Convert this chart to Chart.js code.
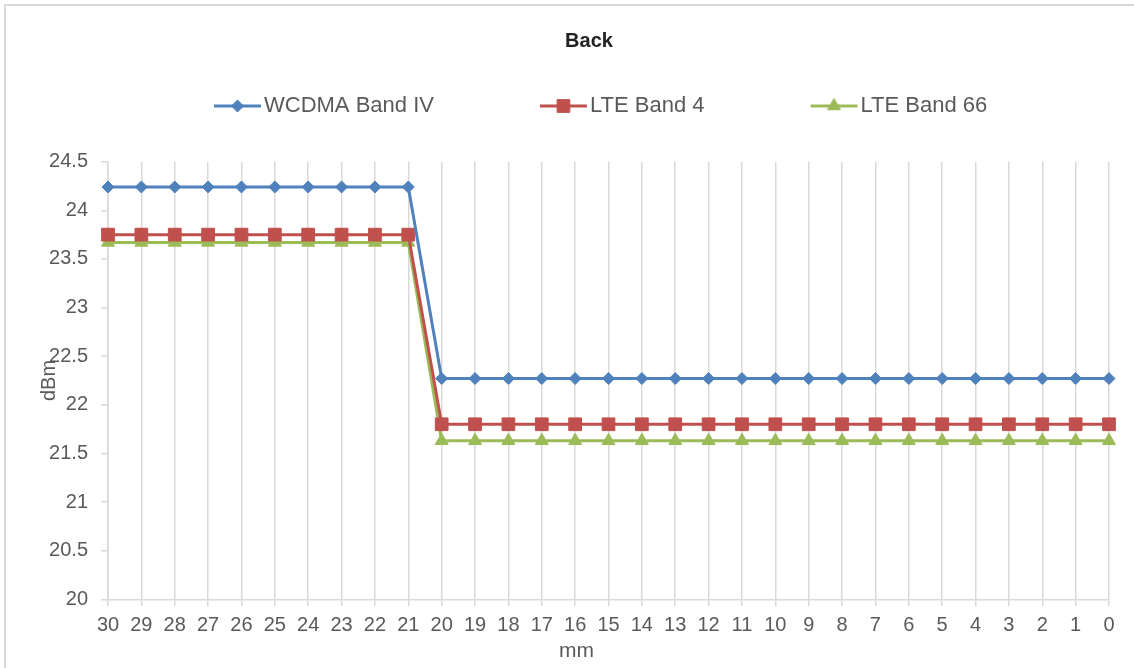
<!DOCTYPE html>
<html>
<head>
<meta charset="utf-8">
<script src="https://cdn.jsdelivr.net/npm/chart.js@4.4.1/dist/chart.umd.min.js"></script>
<style>
html,body{margin:0;padding:0;background:#fff;overflow:hidden;}
#wrap{position:relative;width:1134px;height:668px;overflow:hidden;}
#frame{position:absolute;left:4px;top:4px;width:1200px;height:800px;border:2px solid #d9d9d9;box-sizing:border-box;}
#c{position:absolute;left:0;top:0;}
</style>
</head>
<body>
<div id="wrap"><div id="frame"></div><canvas id="c" width="1134" height="668"></canvas></div>
<script>
// ---- data ----
const chartTitle = 'Back';
const xAxisTitle = 'mm';
const yAxisTitle = 'dBm';
const categories = ['30','29','28','27','26','25','24','23','22','21','20','19','18','17','16','15','14','13','12','11','10','9','8','7','6','5','4','3','2','1','0'];
const seriesNames = ['WCDMA Band IV', 'LTE Band 4', 'LTE Band 66'];
const wcdmaBandIV = [24.24,24.24,24.24,24.24,24.24,24.24,24.24,24.24,24.24,24.24,22.27,22.27,22.27,22.27,22.27,22.27,22.27,22.27,22.27,22.27,22.27,22.27,22.27,22.27,22.27,22.27,22.27,22.27,22.27,22.27,22.27];
const lteBand4    = [23.75,23.75,23.75,23.75,23.75,23.75,23.75,23.75,23.75,23.75,21.80,21.80,21.80,21.80,21.80,21.80,21.80,21.80,21.80,21.80,21.80,21.80,21.80,21.80,21.80,21.80,21.80,21.80,21.80,21.80,21.80];
const lteBand66   = [23.67,23.67,23.67,23.67,23.67,23.67,23.67,23.67,23.67,23.67,21.63,21.63,21.63,21.63,21.63,21.63,21.63,21.63,21.63,21.63,21.63,21.63,21.63,21.63,21.63,21.63,21.63,21.63,21.63,21.63,21.63];
const yMin = 20, yMax = 24.5, yStep = 0.5;

// ---- styles ----
const FONT = "'Liberation Sans', Arial, sans-serif";
const colors = ['#4F81BD', '#C0504D', '#9BBB59'];
const pointStyles = ['rectRot', 'rect', 'triangle'];
const pointRadii = [6, 9, 7.5];
const GRID = '#d9d9d9';
const TEXT = '#595959';
const LEGEND_BOX_W = 110;

function legendIcon(color, style, radius) {
  const c = document.createElement('canvas');
  c.width = LEGEND_BOX_W + 18; c.height = 24;
  const g = c.getContext('2d');
  const x2 = c.width - 1, x1 = x2 - 47, y = c.height / 2;
  g.strokeStyle = color; g.lineWidth = 3;
  g.beginPath(); g.moveTo(x1, y); g.lineTo(x2, y); g.stroke();
  g.fillStyle = color; g.strokeStyle = color; g.lineWidth = 1;
  Chart.helpers.drawPoint(g, {pointStyle: style, radius: radius, borderWidth: 1, rotation: 0}, (x1 + x2) / 2, y);
  return c;
}
const legendIcons = colors.map((c, i) => legendIcon(c, pointStyles[i], pointRadii[i]));

const layoutTweaks = {
  id: 'layoutTweaks',
  afterLayout(chart) {
    const t = chart.titleBlock;
    if (t) { t.left += 18; t.right += 18; }
    const l = chart.legend;
    if (l) { l.top -= 34.7; l.bottom -= 34.7; }
    const sx = chart.scales.x;
    if (sx && !sx.__patched) {
      const orig = sx.drawTitle;
      sx.drawTitle = function (...a) {
        this.ctx.save(); this.ctx.translate(-32, 0); orig.apply(this, a); this.ctx.restore();
      };
      sx.__patched = true;
    }
  }
};

const seriesData = [wcdmaBandIV, lteBand4, lteBand66];
new Chart(document.getElementById('c'), {
  type: 'line',
  data: {
    labels: categories,
    datasets: seriesData.map((d, i) => ({
      label: seriesNames[i],
      data: d,
      borderColor: colors[i],
      backgroundColor: colors[i],
      borderWidth: 3,
      pointStyle: pointStyles[i],
      pointRadius: pointRadii[i],
      pointHoverRadius: pointRadii[i],
      pointBackgroundColor: colors[i],
      pointBorderColor: colors[i],
      pointBorderWidth: 1,
      tension: 0,
      fill: false
    }))
  },
  options: {
    responsive: false,
    animation: false,
    devicePixelRatio: 1,
    layout: { padding: { left: 33, right: 25, top: 0, bottom: 0 } },
    plugins: {
      title: {
        display: true, text: chartTitle, color: '#222',
        font: { family: FONT, size: 20, weight: 'bold' },
        padding: { top: 29, bottom: 41.7 }
      },
      legend: {
        display: true, position: 'top', align: 'start', fullSize: false,
        labels: {
          usePointStyle: true, pointStyleWidth: LEGEND_BOX_W, padding: 35,
          color: TEXT, font: { family: FONT, size: 22 },
          generateLabels(chart) {
            const items = Chart.defaults.plugins.legend.labels.generateLabels(chart);
            items.forEach((it, i) => { it.pointStyle = legendIcons[i]; });
            return items;
          }
        }
      },
      tooltip: { enabled: false }
    },
    scales: {
      x: {
        type: 'category',
        offset: false,
        grid: { display: true, drawOnChartArea: true, drawTicks: true, tickLength: 7, color: GRID, lineWidth: 1.5 },
        border: { display: true, color: GRID, width: 1.5 },
        ticks: { color: TEXT, font: { family: FONT, size: 20 }, autoSkip: false, maxRotation: 0, minRotation: 0, padding: 7 },
        title: { display: true, text: xAxisTitle, color: TEXT, font: { family: FONT, size: 21 }, padding: { top: 4, bottom: 4 } },
        afterFit(scale) { scale.height = 68.7; }
      },
      y: {
        min: yMin, max: yMax,
        grid: { display: true, drawOnChartArea: false, drawTicks: true, tickLength: 7, color: GRID, lineWidth: 1.5 },
        border: { display: true, color: GRID, width: 1.5 },
        ticks: { stepSize: yStep, color: TEXT, font: { family: FONT, size: 20 }, padding: 13, callback: (v) => String(v) },
        title: { display: true, text: yAxisTitle, color: TEXT, font: { family: FONT, size: 20 }, padding: { top: 4, bottom: 4 } },
        afterFit(scale) { scale.width = 75; }
      }
    }
  },
  plugins: [layoutTweaks]
});
</script>
</body>
</html>
